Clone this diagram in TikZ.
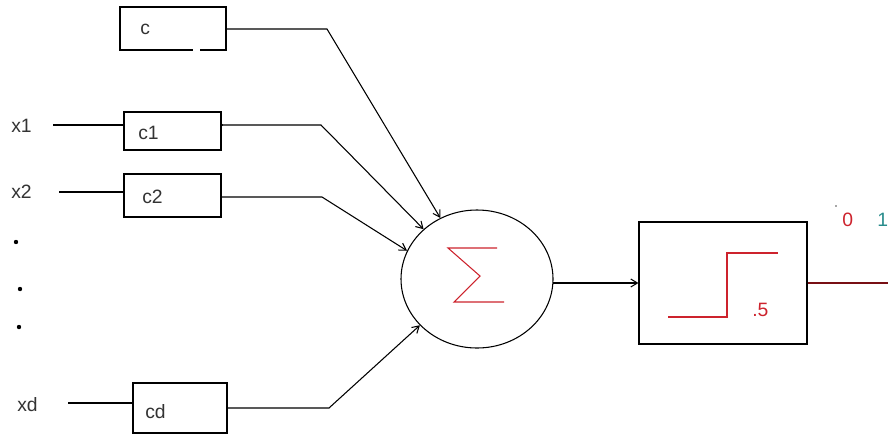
\documentclass[tikz,border=0pt]{standalone}
\usepackage{fontspec}
\setmainfont{Liberation Sans}
\usetikzlibrary{arrows.meta,shapes.geometric}
\definecolor{stepred}{RGB}{205,35,45}
\definecolor{outred}{RGB}{120,15,20}
\definecolor{teal1}{RGB}{40,140,140}
\begin{document}
\begin{tikzpicture}[x=0.75pt,y=-0.75pt,
  font=\fontsize{14.5}{16}\selectfont,
  wire/.style={draw=black,line width=0.8pt},
  feed/.style={wire,-{Straight Barb[length=5pt,width=6pt]}},
  weightbox/.style={draw=black,line width=0.8pt,rectangle,inner sep=0pt},
  lbl/.style={inner sep=0pt,anchor=west,text=black!80}]
\useasboundingbox (0,0) rectangle (888,436);

% weight boxes
\node[weightbox,minimum width=79.5pt,minimum height=32.25pt] (bc)  at (173,28.5) {};
\node[weightbox,minimum width=72.75pt,minimum height=28.5pt] (bc1) at (172.5,131) {};
\node[weightbox,minimum width=72.75pt,minimum height=32.25pt] (bc2) at (172.5,195.5) {};
\node[weightbox,minimum width=70.5pt,minimum height=37.5pt] (bcd) at (180,408) {};
% small break in the lower edge of the bias box
\draw[white,line width=1.4pt] (193,50) -- (200,50);

% labels inside the boxes
\node[lbl] (tc)  at (140,29)  {c};
\node[lbl] (tc1) at (138,133) {c1};
\node[lbl] (tc2) at (142,197) {c2};
\node[lbl] (tcd) at (145,412) {cd};

% inputs
\node[lbl] (x1) at (11,126) {x1};
\node[lbl] (x2) at (11,192) {x2};
\node[lbl] (xd) at (17,405) {xd};
\coordinate (x1e) at (53,125);
\coordinate (x2e) at (59,192);
\coordinate (xde) at (68,403);
\draw[wire] (x1e) -- (bc1.west |- x1e);
\draw[wire] (x2e) -- (bc2.west |- x2e);
\draw[wire] (xde) -- (bcd.west |- xde);

% vertical ellipsis between x2 and xd
\fill (16,242) circle (2.2);
\fill (20,289) circle (2.2);
\fill (19,327) circle (2.2);

% summing junction
\node[ellipse,draw=black,line width=0.8pt,minimum width=114pt,minimum height=103.5pt,inner sep=0pt] (sum) at (477,279) {};
\draw[stepred,line width=0.8pt] (497,248) -- (448,248) -- (480,276) -- (454,302) -- (504,302);

% weighted inputs into the junction
\coordinate (kc)  at (327,29);
\coordinate (kc1) at (321,125);
\coordinate (kc2) at (322,197);
\coordinate (kcd) at (329,408);
\draw[feed] (bc.east |- kc) -- (kc) -- (sum.121);
\draw[feed] (bc1.east |- kc1) -- (kc1) -- (sum.137);
\fill (bc1.east |- kc1) circle (1.5);
\draw[feed] (bc2.east |- kc2) -- (kc2) -- (sum.158);
\draw[feed] (bcd.east |- kcd) -- (kcd) -- (sum.219);

% threshold unit
\node[draw=black,line width=0.8pt,rectangle,minimum width=126pt,minimum height=91.5pt,inner sep=0pt] (thr) at (723,283) {};
\draw[feed] (sum.-3) -- (sum.-3 -| thr.west);
\draw[stepred,line width=0.8pt] (668,317) -- (727,317) -- (727,253) -- (778,253);
\fill[stepred] (727,317) circle (1.1);
\node[lbl,text=stepred] (half) at (752,310) {.5};

% output
\coordinate (out) at (888,283);
\draw[outred,line width=2.2pt] (thr.east) -- (out);
\node[lbl,text=stepred] (zero) at (842,220) {0};
\node[lbl,text=teal1] (one) at (877,220) {1};
\fill[black!70] (836,206) circle (0.9);
\end{tikzpicture}
\end{document}
